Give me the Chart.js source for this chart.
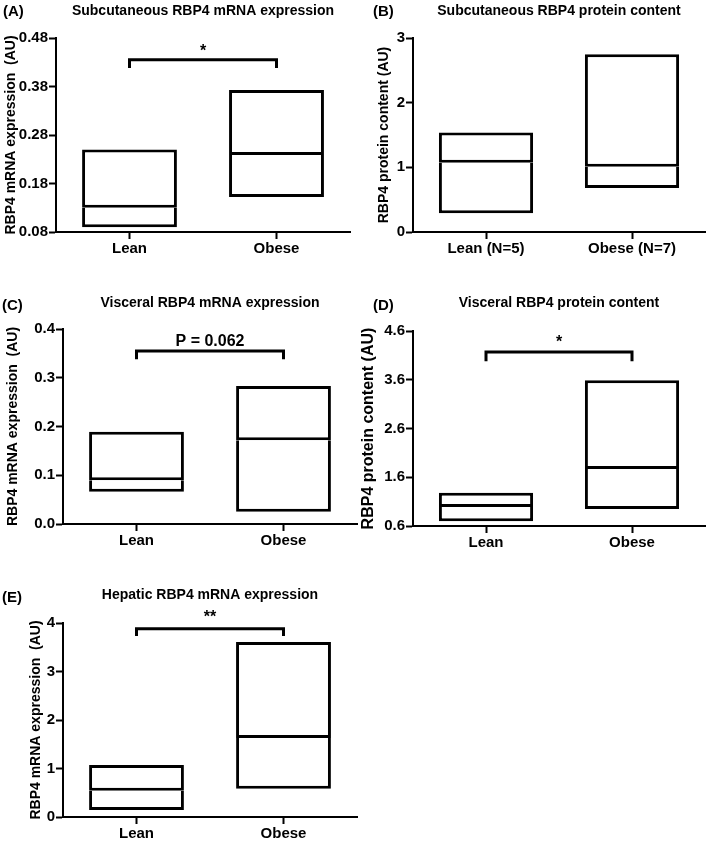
<!DOCTYPE html>
<html><head><meta charset="utf-8">
<script src="https://cdn.jsdelivr.net/npm/chart.js@4"></script>
<style>
html,body{margin:0;padding:0;background:#fff;}
#wrap{position:relative;width:709px;height:842px;overflow:hidden;background:#fff;}
canvas{position:absolute;}
.lbl{position:absolute;font:bold 15px "Liberation Sans",Arial,sans-serif;color:#000;line-height:16px;}
</style></head><body>
<div id="wrap">
<canvas id="cA" width="356" height="265" style="left:0px;top:0px"></canvas>
<canvas id="cB" width="355" height="265" style="left:354px;top:0px"></canvas>
<canvas id="cC" width="360" height="270" style="left:0px;top:290px"></canvas>
<canvas id="cD" width="355" height="270" style="left:354px;top:290px"></canvas>
<canvas id="cE" width="360" height="272" style="left:0px;top:570px"></canvas>
<div class="lbl" style="left:3px;top:3px">(A)</div>
<div class="lbl" style="left:373px;top:3px">(B)</div>
<div class="lbl" style="left:2px;top:297px">(C)</div>
<div class="lbl" style="left:373px;top:297px">(D)</div>
<div class="lbl" style="left:2px;top:589px">(E)</div>
</div>
<script>
// ---------- DATA ----------
const categories = ['Lean', 'Obese'];
const categoriesB = ['Lean (N=5)', 'Obese (N=7)'];

// (A) Subcutaneous RBP4 mRNA expression
const lowA = [0.09, 0.152];
const medA = [0.13, 0.239];
const highA = [0.25, 0.373];
const ticksA = ['0.08', '0.18', '0.28', '0.38', '0.48'];
const bracketA = [0.435, 0.418];
const sigA = '*';

// (B) Subcutaneous RBP4 protein content
const lowB = [0.29, 0.68];
const medB = [1.07, 1.01];
const highB = [1.54, 2.75];
const ticksB = ['0', '1', '2', '3'];

// (C) Visceral RBP4 mRNA expression
const lowC = [0.066, 0.025];
const medC = [0.090, 0.172];
const highC = [0.189, 0.283];
const ticksC = ['0.0', '0.1', '0.2', '0.3', '0.4'];
const bracketC = [0.355, 0.338];
const sigC = 'P = 0.062';

// (D) Visceral RBP4 protein content
const lowD = [0.70, 0.95];
const medD = [0.99, 1.77];
const highD = [1.28, 3.59];
const ticksD = ['0.6', '1.6', '2.6', '3.6', '4.6'];
const bracketD = [4.17, 3.98];
const sigD = '*';

// (E) Hepatic RBP4 mRNA expression
const lowE = [0.145, 0.58];
const medE = [0.54, 1.63];
const highE = [1.07, 3.61];
const ticksE = ['0', '1', '2', '3', '4'];
const bracketE = [3.88, 3.73];
const sigE = '**';

// ---------- STYLE ----------
const FAM = '"Liberation Sans", Arial, sans-serif';

const bracketPlugin = {
  id: 'bracket',
  afterDatasetsDraw(chart, args, opts) {
    if (!opts || !opts.values) return;
    const ctx = chart.ctx, xs = chart.scales.x, ys = chart.scales.y;
    const x0 = xs.getPixelForValue(0), x1 = xs.getPixelForValue(1);
    const yt = ys.getPixelForValue(opts.values[0]);
    const yb = ys.getPixelForValue(opts.values[1]);
    ctx.save();
    ctx.lineWidth = 3; ctx.strokeStyle = '#000'; ctx.lineJoin = 'miter'; ctx.lineCap = 'butt';
    ctx.beginPath();
    ctx.moveTo(x0, yb); ctx.lineTo(x0, yt); ctx.lineTo(x1, yt); ctx.lineTo(x1, yb);
    ctx.stroke();
    ctx.fillStyle = '#000';
    ctx.font = 'bold ' + opts.size + 'px ' + FAM;
    ctx.textAlign = 'center'; ctx.textBaseline = 'alphabetic';
    ctx.fillText(opts.text, (x0 + x1) / 2, yt - opts.gap);
    ctx.restore();
  }
};

function makePanel(id, labels, low, med, high, tickLabels, yMin, yMax, yStep, title, yTitle, bracket, sig, L) {
  const canvas = document.getElementById(id);
  const H = canvas.height;
  const common = {
    backgroundColor: '#fff', borderColor: '#000', borderSkipped: false,
    grouped: false, barPercentage: 0.645, categoryPercentage: 1, inflateAmount: 0
  };
  const yts = L.yTitleSize;
  return new Chart(canvas, {
    type: 'bar',
    data: {
      labels: labels,
      datasets: [
        Object.assign({ data: labels.map((_, i) => [low[i], med[i]]),
          borderWidth: { left: 3, right: 3, bottom: 3, top: 0 } }, common),
        Object.assign({ data: labels.map((_, i) => [med[i], high[i]]),
          borderWidth: { left: 3, right: 3, top: 3, bottom: 3 } }, common)
      ]
    },
    options: {
      responsive: false, animation: false, devicePixelRatio: 1,
      layout: { padding: { left: 0, right: L.padRight, top: 0, bottom: 0 } },
      plugins: {
        legend: { display: false }, tooltip: { enabled: false },
        title: { display: true, text: title, fullSize: false, color: '#000',
          font: { family: FAM, size: 14, weight: 'bold', lineHeight: 1.2 },
          padding: { top: L.titleCY - 8.4, bottom: L.top - L.titleCY - 8.4 } },
        bracket: bracket ? { values: bracket, text: sig, size: L.sigSize, gap: L.sigGap } : {}
      },
      scales: {
        x: {
          type: 'category', offset: true,
          grid: { offset: false, drawOnChartArea: false, drawTicks: true, tickLength: 7, tickWidth: 2, tickColor: '#000' },
          border: { display: true, color: '#000', width: 2 },
          ticks: { color: '#000', padding: 1, font: { family: FAM, size: 15, weight: 'bold' }, maxRotation: 0 },
          afterFit: s => { s.height = H - L.bottom; }
        },
        y: {
          type: 'linear', min: yMin, max: yMax,
          grid: { drawOnChartArea: false, drawTicks: true, tickLength: 7, tickWidth: 2, tickColor: '#000' },
          border: { display: true, color: '#000', width: 2 },
          ticks: { stepSize: yStep, color: '#000', padding: 1,
            font: { family: FAM, size: 15, weight: 'bold' },
            callback: (v, i) => tickLabels[i] },
          title: { display: true, text: yTitle, color: '#000',
            font: { family: FAM, size: yts, weight: 'bold', lineHeight: 1.2 },
            padding: { top: L.yTitleCX - yts * 0.6, bottom: 0 } },
          afterFit: s => { s.width = L.left; }
        }
      }
    },
    plugins: [bracketPlugin]
  });
}

makePanel('cA', categories, lowA, medA, highA, ticksA, 0.08, 0.48, 0.1,
  'Subcutaneous RBP4 mRNA expression', 'RBP4 mRNA expression  (AU)', bracketA, sigA,
  { left: 56, padRight: 6, top: 38, bottom: 232, titleCY: 11, yTitleCX: 11, yTitleSize: 14, sigSize: 16, sigGap: 4 });
makePanel('cB', categoriesB, lowB, medB, highB, ticksB, 0, 3, 1,
  'Subcutaneous RBP4 protein content', 'RBP4 protein content (AU)', null, '',
  { left: 59, padRight: 4, top: 38, bottom: 232, titleCY: 11, yTitleCX: 30, yTitleSize: 14, sigSize: 16, sigGap: 4 });
makePanel('cC', categories, lowC, medC, highC, ticksC, 0, 0.4, 0.1,
  'Visceral RBP4 mRNA expression', 'RBP4 mRNA expression  (AU)', bracketC, sigC,
  { left: 63, padRight: 3, top: 39, bottom: 234, titleCY: 13, yTitleCX: 13, yTitleSize: 14, sigSize: 16, sigGap: 5 });
makePanel('cD', categories, lowD, medD, highD, ticksD, 0.6, 4.6, 1,
  'Visceral RBP4 protein content', 'RBP4 protein content (AU)', bracketD, sigD,
  { left: 59, padRight: 4, top: 41, bottom: 236, titleCY: 13, yTitleCX: 15, yTitleSize: 16, sigSize: 16, sigGap: 5 });
makePanel('cE', categories, lowE, medE, highE, ticksE, 0, 4, 1,
  'Hepatic RBP4 mRNA expression', 'RBP4 mRNA expression  (AU)', bracketE, sigE,
  { left: 63, padRight: 3, top: 53, bottom: 247, titleCY: 25, yTitleCX: 36, yTitleSize: 14, sigSize: 16, sigGap: 7 });
</script>
</body></html>
